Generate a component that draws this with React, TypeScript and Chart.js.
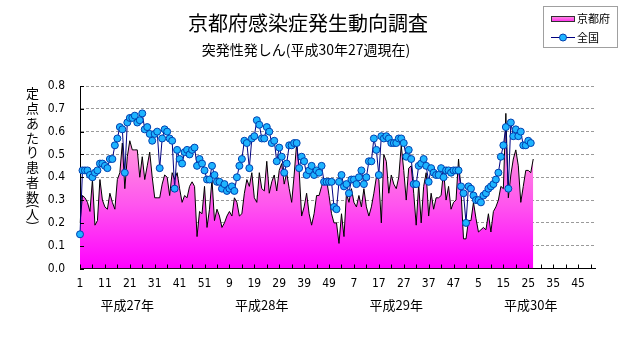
import React, { useEffect, useRef } from 'react';
import { Chart, registerables } from 'chart.js';

Chart.register(...registerables);

const TITLE = '京都府感染症発生動向調査';
const SUBTITLE = '突発性発しん(平成30年27週現在)';
const Y_TITLE_CHARS = ['定', '点', 'あ', 'た', 'り', '患', '者', '数', '(', '人', ')'];
const YEARS = ['平成27年', '平成28年', '平成29年', '平成30年'];
const YEAR_LABEL_INDEX = [19, 73, 127, 181];
const WEEKS_PER_YEAR = 52;
const WEEK_LABELS: string[] = YEARS.flatMap(() =>
  Array.from({ length: WEEKS_PER_YEAR }, (_, i) => String(i + 1))
);
const Y_TICKS = [0, 0.1, 0.2, 0.3, 0.4, 0.5, 0.6, 0.7, 0.8];
const SERIES_NAMES = ['京都府', '全国'];

const KYOTO = [
  0.20, 0.32, 0.31, 0.29, 0.25, 0.39, 0.19, 0.21, 0.39, 0.30,
  0.27, 0.26, 0.33, 0.29, 0.26, 0.39, 0.42, 0.55, 0.35, 0.49,
  0.56, 0.52, 0.52, 0.52, 0.40, 0.49, 0.39, 0.45, 0.51, 0.40,
  0.31, 0.31, 0.31, 0.37, 0.41, 0.40, 0.32, 0.42, 0.39, 0.42,
  0.35, 0.29, 0.32, 0.31, 0.36, 0.38, 0.36, 0.14, 0.25, 0.24,
  0.36, 0.18, 0.26, 0.39, 0.21, 0.26, 0.23, 0.18, 0.20, 0.23,
  0.25, 0.23, 0.31, 0.29, 0.23, 0.24, 0.33, 0.39, 0.36, 0.42,
  0.31, 0.29, 0.42, 0.35, 0.34, 0.47, 0.33, 0.38, 0.41, 0.34,
  0.43, 0.46, 0.37, 0.42, 0.35, 0.29, 0.41, 0.55, 0.43, 0.23,
  0.27, 0.33, 0.24, 0.19, 0.24, 0.32, 0.32, 0.36, 0.39, 0.39,
  0.32, 0.24, 0.20, 0.20, 0.11, 0.24, 0.14, 0.33, 0.29, 0.35,
  0.29, 0.27, 0.32, 0.27, 0.35, 0.27, 0.23, 0.27, 0.33, 0.40,
  0.39, 0.20, 0.50, 0.47, 0.33, 0.41, 0.37, 0.35, 0.40, 0.54,
  0.43, 0.30, 0.44, 0.45, 0.33, 0.19, 0.37, 0.20, 0.36, 0.42,
  0.23, 0.33, 0.26, 0.31, 0.31, 0.32, 0.43, 0.30, 0.36, 0.26,
  0.29, 0.30, 0.48, 0.34, 0.13, 0.13, 0.21, 0.21, 0.29, 0.22,
  0.16, 0.17, 0.18, 0.17, 0.24, 0.16, 0.25, 0.27, 0.30, 0.36,
  0.35, 0.68, 0.31, 0.41, 0.48, 0.52, 0.45, 0.29, 0.36, 0.43,
  0.43, 0.42, 0.48,
];

const NATIONAL = [
  0.15, 0.43, 0.43, 0.43, 0.41, 0.40, 0.42, 0.43, 0.46, 0.46,
  0.45, 0.44, 0.48, 0.48, 0.54, 0.57, 0.62, 0.61, 0.42, 0.64,
  0.66, 0.66, 0.67, 0.64, 0.65, 0.68, 0.61, 0.62, 0.59, 0.56,
  0.59, 0.60, 0.44, 0.57, 0.61, 0.60, 0.57, 0.56, 0.35, 0.52,
  0.48, 0.46, 0.51, 0.52, 0.50, 0.52, 0.53, 0.45, 0.48, 0.46,
  0.43, 0.39, 0.39, 0.45, 0.41, 0.38, 0.38, 0.35, 0.37, 0.34,
  0.35, 0.36, 0.34, 0.40, 0.45, 0.48, 0.56, 0.55, 0.44, 0.57,
  0.58, 0.65, 0.63, 0.57, 0.57, 0.62, 0.60, 0.55, 0.56, 0.47,
  0.53, 0.49, 0.42, 0.46, 0.54, 0.54, 0.55, 0.55, 0.44, 0.49,
  0.47, 0.41, 0.43, 0.45, 0.41, 0.43, 0.42, 0.45, 0.38, 0.38,
  0.38, 0.38, 0.27, 0.26, 0.38, 0.41, 0.36, 0.37, 0.33, 0.39,
  0.39, 0.37, 0.40, 0.43, 0.37, 0.40, 0.47, 0.47, 0.57, 0.52,
  0.41, 0.58, 0.57, 0.58, 0.57, 0.55, 0.55, 0.55, 0.57, 0.57,
  0.55, 0.49, 0.52, 0.48, 0.37, 0.37, 0.45, 0.46, 0.48, 0.45,
  0.38, 0.44, 0.42, 0.41, 0.41, 0.44, 0.40, 0.43, 0.43, 0.42,
  0.43, 0.43, 0.43, 0.36, 0.33, 0.20, 0.36, 0.35, 0.32, 0.30,
  0.30, 0.29, 0.32, 0.33, 0.35, 0.36, 0.37, 0.39, 0.42, 0.49,
  0.54, 0.62, 0.35, 0.64, 0.58, 0.61, 0.58, 0.60, 0.54, 0.54,
  0.56, 0.55,
];

const JP_FONT = "'Noto Sans CJK JP', 'Noto Sans', sans-serif";
const NUM_FONT = "'Liberation Sans Narrow', 'DejaVu Sans Condensed', 'Liberation Sans', sans-serif";

const NAT_LINE = '#000080';
const NAT_POINT = '#1EB4FF';
const NAT_POINT_BORDER = '#0040B0';

const decorPlugin = {
  id: 'decor',
  afterDatasetsDraw(chart: any) {
    const { ctx, chartArea, scales } = chart;
    const xs = scales.x;
    const ys = scales.y;
    ctx.save();
    ctx.strokeStyle = '#000';
    ctx.lineWidth = 1;
    ctx.beginPath();
    for (let i = 0; i < WEEK_LABELS.length; i += 5) {
      const x = Math.round(xs.getPixelForValue(i)) + 0.5;
      ctx.moveTo(x, chartArea.bottom);
      ctx.lineTo(x, chartArea.bottom - 4);
    }
    for (const v of Y_TICKS) {
      const y = Math.round(ys.getPixelForValue(v)) + 0.5;
      ctx.moveTo(chartArea.left, y);
      ctx.lineTo(chartArea.left + 4, y);
    }
    ctx.stroke();
    ctx.restore();
  },
  afterDraw(chart: any) {
    const { ctx, scales } = chart;
    const xs = scales.x;
    ctx.save();
    ctx.fillStyle = '#000';
    ctx.textAlign = 'center';
    ctx.textBaseline = 'middle';
    // title & subtitle
    ctx.font = `20px ${JP_FONT}`;
    ctx.fillText(TITLE, 308, 23);
    ctx.font = `14px ${JP_FONT}`;
    ctx.fillText(SUBTITLE, 306, 50);
    // vertical y-axis title (stacked characters, parentheses turned)
    ctx.font = `13px ${JP_FONT}`;
    const yPos = [93, 108, 123, 138, 152, 167, 182, 197, 206, 214, 223];
    Y_TITLE_CHARS.forEach((ch, i) => {
      if (ch === '(' || ch === ')') {
        ctx.save();
        ctx.translate(32.5, yPos[i]);
        ctx.rotate(Math.PI / 2);
        ctx.fillText(ch, 0, 0);
        ctx.restore();
      } else {
        ctx.fillText(ch, 32.5, yPos[i]);
      }
    });
    // year labels
    ctx.font = `13px ${JP_FONT}`;
    YEARS.forEach((label, i) => {
      const x = xs.getPixelForValue(YEAR_LABEL_INDEX[i]);
      ctx.fillText(label, x, 305);
    });
    // legend
    ctx.fillStyle = '#fff';
    ctx.fillRect(543.5, 6.5, 74, 41);
    ctx.strokeStyle = '#a0a0a0';
    ctx.lineWidth = 1;
    ctx.strokeRect(543.5, 6.5, 74, 41);
    const g = ctx.createLinearGradient(0, 16, 0, 22);
    g.addColorStop(0, '#FF99E0');
    g.addColorStop(1, '#FF22F0');
    ctx.fillStyle = g;
    ctx.fillRect(551, 16, 24, 6);
    ctx.strokeStyle = '#303030';
    ctx.strokeRect(551.5, 16.5, 23, 5);
    ctx.fillStyle = '#000';
    ctx.textAlign = 'left';
    ctx.font = `11px ${JP_FONT}`;
    ctx.fillText(SERIES_NAMES[0], 577, 19);
    ctx.strokeStyle = NAT_LINE;
    ctx.beginPath();
    ctx.moveTo(551, 37.5);
    ctx.lineTo(575, 37.5);
    ctx.stroke();
    ctx.beginPath();
    ctx.arc(563, 37.5, 3.5, 0, Math.PI * 2);
    ctx.fillStyle = NAT_POINT;
    ctx.fill();
    ctx.strokeStyle = NAT_POINT_BORDER;
    ctx.stroke();
    ctx.fillStyle = '#000';
    ctx.fillText(SERIES_NAMES[1], 577, 37.5);
    ctx.restore();
  },
};

export default function App() {
  const canvasRef = useRef<HTMLCanvasElement | null>(null);

  useEffect(() => {
    const canvas = canvasRef.current;
    if (!canvas) return;
    const chart = new Chart(canvas, {
      type: 'line',
      data: {
        labels: WEEK_LABELS,
        datasets: [
          {
            label: SERIES_NAMES[1],
            data: NATIONAL,
            order: 0,
            borderColor: NAT_LINE,
            borderWidth: 1,
            pointRadius: 3.5,
            pointBackgroundColor: NAT_POINT,
            pointBorderColor: NAT_POINT_BORDER,
            pointBorderWidth: 1,
            fill: false,
            tension: 0,
          },
          {
            label: SERIES_NAMES[0],
            data: KYOTO,
            order: 1,
            borderColor: '#000',
            borderWidth: 1,
            pointRadius: 0,
            tension: 0,
            fill: 'origin',
            backgroundColor: (c: any) => {
              const area = c.chart.chartArea;
              if (!area) return '#FF66EE';
              const gr = c.chart.ctx.createLinearGradient(0, area.top, 0, area.bottom);
              gr.addColorStop(0, '#FFC8EC');
              gr.addColorStop(0.3, '#FF99DD');
              gr.addColorStop(0.65, '#FF55EE');
              gr.addColorStop(1, '#FF00FF');
              return gr;
            },
          },
        ],
      },
      options: {
        responsive: false,
        animation: false,
        events: [],
        layout: { padding: { top: 86, right: 35.5, left: 0, bottom: 0 } },
        plugins: {
          legend: { display: false },
          tooltip: { enabled: false },
          title: { display: false },
        },
        scales: {
          x: {
            type: 'category',
            offset: false,
            grid: { display: false, drawTicks: false, tickLength: 0 },
            border: { display: true, color: '#000', width: 1 },
            ticks: {
              autoSkip: false,
              maxRotation: 0,
              minRotation: 0,
              padding: 8,
              color: '#000',
              font: { family: NUM_FONT, size: 12 },
              callback: (_v: any, i: number) => (i % 10 === 0 ? WEEK_LABELS[i] : null),
            },
            afterFit: (s: any) => {
              s.height = 78.5;
            },
          },
          y: {
            min: 0,
            max: 0.8,
            ticks: {
              stepSize: 0.1,
              padding: 15,
              color: '#000',
              font: { family: NUM_FONT, size: 12 },
              callback: (v: any) => Number(v).toFixed(1),
            },
            grid: {
              drawTicks: false,
              tickLength: 0,
              lineWidth: 1,
              color: (c: any) => (c.tick && c.tick.value === 0 ? 'rgba(0,0,0,0)' : '#9a9a9a'),
            },
            border: { display: true, color: '#000', width: 1, dash: [3, 2] },
            afterFit: (s: any) => {
              s.width = 80;
            },
          },
        },
      },
      plugins: [decorPlugin],
    } as any);
    return () => chart.destroy();
  }, []);

  return (
    <div style={{ position: 'absolute', left: 0, top: 0, width: 631, height: 347, background: '#fff' }}>
      <canvas ref={canvasRef} width={631} height={347} style={{ display: 'block' }} />
    </div>
  );
}
